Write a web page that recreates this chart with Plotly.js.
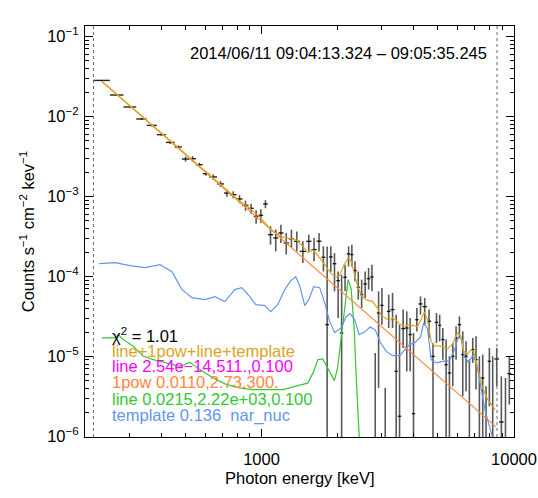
<!DOCTYPE html>
<html><head><meta charset="utf-8">
<script src="https://cdn.plot.ly/plotly-3.0.1.min.js"></script>
<style>html,body{margin:0;padding:0;background:#fff;}#chart{width:538px;height:498px;}</style>
</head><body><div id="chart"></div>
<script>
// ---- data ----
const xRange = [200, 10000];
const yRange = [9.8e-7, 0.135];
const fitRange = [216, 8565];

// energy bin edges (keV), contiguous
const binEdges = [216, 251, 284, 319, 351, 385, 418, 453, 484, 517, 550, 585, 621, 667, 710, 749, 797, 841, 888, 932, 973, 1015, 1059,
  1113, 1165, 1223, 1284, 1344, 1417, 1501, 1578, 1653, 1728, 1790, 1850, 1913, 1979, 2045, 2109, 2178, 2248, 2312, 2381,
  2453, 2533, 2615, 2697, 2779, 2864, 2954, 3044, 3137, 3244, 3365, 3467, 3576, 3702, 3822, 3938, 4062, 4186, 4341, 4522,
  4699, 4856, 5008, 5147, 5304, 5465, 5637, 5809, 5986, 6174, 6362, 6556, 6763, 6969, 7181, 7407, 7633, 7866, 8113, 8360,
  8726, 9099, 9410, 9758];

// measured count flux
const flux = [0.02818, 0.01851, 0.01311, 0.00928, 0.00772, 0.00591, 0.00473, 0.00414, 0.00293, 0.00296, 0.00249, 0.00192,
  0.00175, 0.00143, 0.00110, 0.00105, 0.000928, 0.000772, 0.000708, 0.000562, 0.000579, 0.000804,
  3.32e-4, 3.02e-4, 3.49e-4, 2.61e-4, 2.93e-4, 2.74e-4, 2.05e-4, 2.74e-4, 2.16e-4, 2.75e-4,
  1.73e-4, 2.49e-5, 1.75e-4, 1.44e-4, 8.84e-5, 1.96e-5, 9.72e-5, 1.91e-4, 1.87e-4, 1.18e-4,
  7.29e-5, 5.91e-5, 8.04e-5, 9.36e-5, 9.83e-5, 8e-7, 3.49e-5, 4.34e-5, 8e-7, 3.65e-5,
  3.84e-5, 6.49e-6, 1.78e-6, 2.22e-5, 2.26e-5, 1.87e-5, 1.92e-6, 2.87e-5, 4.52e-5, 4.18e-5,
  2.74e-5, 1.0e-5, 2.66e-5, 2.44e-5, 1.62e-5, 7.87e-6, 6.20e-6, 1.0e-5, 1.70e-5, 2.49e-5,
  1.05e-5, 1.0e-5, 8e-7, 1.21e-5, 9.09e-6, 8e-7, 5.37e-6, 8e-7, 8.66e-6, 8e-7,
  9.28e-6, 1.51e-6, 8e-7, 6.07e-6];

const fluxHi = [0.02858, 0.01878, 0.01337, 0.00955, 0.00794, 0.00608, 0.00494, 0.00432, 0.00314, 0.00318, 0.002635, 0.002031,
  0.001878, 0.001554, 0.00121, 0.001155, 0.001036, 0.000884, 0.000811, 0.000669, 0.000689, 0.000897,
  4.22e-4, 3.84e-4, 4.43e-4, 3.49e-4, 3.84e-4, 3.65e-4, 2.74e-4, 3.32e-4, 3.02e-4, 3.49e-4,
  2.37e-4, 2.37e-4, 2.37e-4, 1.96e-4, 1.15e-4, 1.05e-4, 1.40e-4, 2.37e-4, 2.49e-4, 1.54e-4,
  1.15e-4, 9.09e-5, 1.15e-4, 1.27e-4, 1.40e-4, 1.10e-5, 6.49e-5, 7.16e-5, 4.03e-6, 5.91e-5,
  6.20e-5, 3.32e-5, 2.49e-5, 3.84e-5, 3.65e-5, 3.02e-5, 1.96e-5, 4.03e-5, 5.62e-5, 5.37e-5,
  3.84e-5, 1.47e-5, 3.49e-5, 3.32e-5, 2.26e-5, 1.62e-5, 1.0e-5, 1.47e-5, 2.37e-5, 3.16e-5,
  2.05e-5, 1.54e-5, 9.09e-6, 1.70e-5, 1.78e-5, 1.0e-5, 1.05e-5, 4.22e-6, 1.27e-5, 1.0e-5,
  1.27e-5, 5.62e-6, 5.37e-6, 1.0e-5];

const fluxLo = [0.02778, 0.01824, 0.01285, 0.00901, 0.0075, 0.00574, 0.00452, 0.00396, 0.00272, 0.00274, 0.002345, 0.001809,
  0.001622, 0.001306, 0.00099, 0.000945, 0.00082, 0.00066, 0.000605, 0.000455, 0.000469, 0.000711,
  2.49e-4, 2.05e-4, 2.61e-4, 1.87e-4, 2.26e-4, 2.05e-4, 1.47e-4, 2.05e-4, 1.54e-4, 2.05e-4,
  1.15e-4, 5e-7, 1.14e-4, 6.49e-5, 3.02e-5, 5e-7, 6.49e-5, 1.33e-4, 1.33e-4, 8.66e-5,
  5.11e-5, 4.03e-5, 5.37e-5, 6.82e-5, 6.49e-5, 5e-7, 4.03e-6, 2.49e-5, 5e-7, 2.26e-5,
  2.26e-5, 5e-7, 5e-7, 1.27e-5, 6.49e-6, 6.49e-6, 5e-7, 2.05e-5, 3.32e-5, 2.49e-5,
  1.70e-5, 5e-7, 1.47e-5, 1.54e-5, 9.09e-6, 5e-7, 5e-7, 4.22e-6, 9.09e-6, 1.70e-5,
  3.16e-6, 3.65e-6, 5e-7, 8.27e-6, 3.84e-6, 5e-7, 5e-7, 5e-7, 2.37e-6, 5e-7,
  4.22e-6, 5e-7, 5e-7, 2.49e-6];

// total model: line+1pow+line+template
const totalE = [233.1, 475.5, 821, 899, 985, 1078, 1146, 1217, 1294, 1375, 1460, 1528, 1600, 1674, 1779, 1891, 1984, 2039, 2125, 2208,
  2260, 2332, 2403, 2480, 2584, 2754, 2882, 2976, 3072, 3215, 3304, 3426, 3521, 3685, 3857, 3963, 4148, 4301, 4409, 4543,
  4698, 4842, 5145, 5464, 5718, 5996, 6174, 6322, 6556, 6761, 6923, 7179, 7515, 7864, 8412];
const totalF = [0.02754, 0.00389, 8.71e-4, 7.12e-4, 5.50e-4, 4.00e-4, 3.42e-4, 3.09e-4, 2.96e-4, 2.84e-4, 2.35e-4, 1.98e-4, 2.13e-4, 1.81e-4, 1.40e-4, 1.065e-4, 9.77e-5, 1.02e-4, 1.40e-4, 1.71e-4,
  1.57e-4, 1.11e-4, 7.54e-5, 5.91e-5, 5.11e-5, 4.83e-5, 4.00e-5, 3.27e-5, 3.05e-5, 2.79e-5, 3.05e-5, 2.79e-5, 2.53e-5, 2.38e-5, 2.49e-5, 2.42e-5, 2.35e-5, 2.96e-5, 3.57e-5, 2.88e-5,
  1.53e-5, 1.36e-5, 1.34e-5, 1.25e-5, 1.44e-5, 1.98e-5, 1.76e-5, 1.145e-5, 1.065e-5, 1.21e-5, 1.16e-5, 7.22e-6, 4.00e-6, 2.88e-6, 2.16e-6];

// 1pow component
const powE = [233.1, 2039, 8490];
const powF = [0.02738, 6.82e-5, 1.31e-6];

// line component at 2.22 MeV
const lineE = [233.1, 263.2, 271.2, 283.8, 310.8, 340.4, 372.8, 421.2, 475.5, 520.8, 570.3, 643.9, 727.3, 821, 926.3, 1046.6, 1217.3,
  1417, 1524.2, 1602.3, 1673.9, 1747.6, 1828.4, 1943.6, 2002.1, 2067.2, 2134, 2203.4, 2264.1, 2327.1, 2369.8, 2413.3, 2446];
const lineF = [1.698e-5, 1.698e-5, 1.867e-5, 1.617e-5, 1.334e-5, 1.0e-5, 9.09e-6, 8.27e-6, 7.50e-6, 8.41e-6, 6.82e-6, 5.37e-6, 4.43e-6, 4.03e-6, 3.84e-6, 3.84e-6, 3.84e-6,
  4.37e-6, 4.62e-6, 6.25e-6, 9.09e-6, 9.28e-6, 7.16e-6, 4.97e-6, 7.22e-6, 1.713e-5, 4.43e-5, 9.09e-5, 7.02e-5, 2.28e-5, 5.90e-6, 1.62e-6, 7.87e-7];

// template nar_nuc component
const tmplE = [227.5, 263.2, 301.6, 345.7, 396.3, 442.1, 484.2, 530.4, 597, 653.8, 716, 784.5, 835.9, 899, 949.5, 1030.4, 1088.4, 1159.8, 1236.2, 1305.5,
  1366.4, 1417, 1483, 1538.2, 1609.7, 1700, 1779, 1862, 1949, 2067.2, 2163.3, 2244.1, 2338, 2435.2, 2560, 2691.6, 2817.2, 2961.7, 3113.4, 3303.5,
  3521, 3685, 3857, 4036, 4263.9, 4381.5, 4543, 4698, 4918.6, 5221.9, 5550, 5808.9, 6024, 6190.5, 6362, 6597, 6904, 7096, 7359, 7702,
  8060, 8283, 8435];
const tmplF = [1.441e-4, 1.483e-4, 1.360e-4, 1.284e-4, 1.400e-4, 1.145e-4, 6.82e-5, 5.42e-5, 5.11e-5, 5.57e-5, 4.83e-5, 6.82e-5, 7.22e-5, 5.57e-5, 4.43e-5, 4.30e-5, 3.62e-5, 4.43e-5, 6.82e-5, 8.84e-5,
  9.91e-5, 7.65e-5, 4.30e-5, 5.11e-5, 7.43e-5, 7.22e-5, 4.69e-5, 2.715e-5, 1.98e-5, 2.28e-5, 3.13e-5, 3.42e-5, 2.87e-5, 1.87e-5, 2.01e-5, 2.32e-5, 2.16e-5, 1.48e-5, 1.16e-5, 1.02e-5,
  1.02e-5, 1.18e-5, 1.40e-5, 1.47e-5, 1.74e-5, 2.60e-5, 2.22e-5, 9.09e-6, 8.27e-6, 8.66e-6, 8.84e-6, 1.21e-5, 1.74e-5, 1.62e-5, 9.91e-6, 8.46e-6, 1.05e-5, 8.34e-6, 4.43e-6, 2.03e-6,
  1.21e-6, 9.09e-7, 7.22e-7];

const timeLabel = '2014/06/11 09:04:13.324 – 09:05:35.245';
const legendText = ['χ<sup>2</sup> = 1.01', 'line+1pow+line+template', 'line 2.54e−14,511.,0.100',
  '1pow 0.0110,2.73,300.', 'line 0.0215,2.22e+03,0.100', 'template 0.136 \u00a0nar_nuc'];
const xTitle = 'Photon energy [keV]';
const yTitle = 'Counts s<sup>−1</sup> cm<sup>−2</sup> kev<sup>−1</sup>';
const xMajor = [1000, 10000];
const xMajorText = ['1000', '10000'];
const xMinor = [300, 400, 500, 600, 700, 800, 900, 2000, 3000, 4000, 5000, 6000, 7000, 8000, 9000];
const yMajor = [1e-6, 1e-5, 1e-4, 1e-3, 1e-2, 1e-1];
const yMajorText = ['10<sup>−6</sup>', '10<sup>−5</sup>', '10<sup>−4</sup>', '10<sup>−3</sup>', '10<sup>−2</sup>', '10<sup>−1</sup>'];

// ---- styles ----
const C_TOTAL = 'rgb(218,165,32)', C_MAG = 'rgb(255,0,255)', C_POW = 'rgb(255,135,60)',
      C_LINE = 'rgb(50,200,50)', C_TMPL = 'rgb(100,149,237)';
const legendColors = ['#000', C_TOTAL, C_MAG, C_POW, C_LINE, C_TMPL];
const FS = 16.5;

const yMinor = [];
yMajor.slice(0, 5).forEach(d => { for (let k = 2; k <= 9; k++) yMinor.push(k * d); });

const ec = [], exp = [], exm = [], eyp = [], eym = [];
for (let i = 0; i < flux.length; i++) {
  const c = Math.sqrt(binEdges[i] * binEdges[i + 1]);
  ec.push(c); exp.push(binEdges[i + 1] - c); exm.push(c - binEdges[i]);
  eyp.push(fluxHi[i] - flux[i]); eym.push(flux[i] - fluxLo[i]);
}

const traces = [
  { x: ec, y: flux, type: 'scatter', mode: 'markers', marker: { size: 1, color: 'rgba(0,0,0,0)' }, cliponaxis: true,
    error_x: { type: 'data', symmetric: false, array: exp, arrayminus: exm, width: 0, thickness: 1.4, color: 'rgba(0,0,0,0.85)' },
    error_y: { type: 'data', symmetric: false, array: eyp, arrayminus: eym, width: 0, thickness: 1.6, color: 'rgba(0,0,0,0.65)' },
    hoverinfo: 'skip' },
  { x: lineE, y: lineF, type: 'scatter', mode: 'lines', line: { color: C_LINE, width: 1.2 } },
  { x: tmplE, y: tmplF, type: 'scatter', mode: 'lines', line: { color: C_TMPL, width: 1.2 } },
  { x: powE, y: powF, type: 'scatter', mode: 'lines', line: { color: C_POW, width: 1.2 } },
  { x: totalE, y: totalF, type: 'scatter', mode: 'lines', line: { color: C_TOTAL, width: 1.2 } }
];

const FONT = 'Liberation Sans, Arial, Helvetica, sans-serif';
const annotations = [{
  text: timeLabel, xref: 'paper', yref: 'paper', x: 0.942, y: 0.934, xanchor: 'right', yanchor: 'middle',
  showarrow: false, font: { family: FONT, size: FS, color: '#000' }
}, {
  text: xTitle, xref: 'paper', yref: 'paper', x: 0.5, y: -0.1, xanchor: 'center', yanchor: 'middle',
  showarrow: false, font: { family: FONT, size: FS, color: '#000' }
}];
const legendY = [0.248, 0.21, 0.1727, 0.1345, 0.0932, 0.0518];
legendText.forEach((t, i) => annotations.push({
  text: t, xref: 'paper', yref: 'paper', x: 0.058, y: legendY[i], xanchor: 'left', yanchor: 'middle',
  showarrow: false, font: { family: FONT, size: FS, color: legendColors[i] }
}));

const shapes = fitRange.map(e => ({
  type: 'line', xref: 'x', yref: 'paper', x0: e, x1: e, y0: 0, y1: 1,
  line: { color: '#666', width: 1, dash: 'dot' }
}));

const axisCommon = {
  type: 'log', showgrid: false, zeroline: false, showline: true, linecolor: '#000', linewidth: 1,
  mirror: 'ticks', ticks: 'inside', tickcolor: '#000', tickwidth: 1, ticklen: 8,
  tickfont: { family: FONT, size: FS, color: '#000' }
};

const layout = {
  width: 538, height: 498,
  margin: { l: 85, r: 24, t: 26, b: 61, pad: 0 },
  paper_bgcolor: '#fff', plot_bgcolor: '#fff', showlegend: false,
  font: { family: FONT, size: FS, color: '#000' },
  xaxis: Object.assign({}, axisCommon, {
    range: [Math.log10(xRange[0]), Math.log10(xRange[1])],
    tickmode: 'array', tickvals: xMajor, ticktext: xMajorText, ticklabelstandoff: 7,
    minor: { tickmode: 'array', tickvals: xMinor, ticklen: 4, ticks: 'inside', tickcolor: '#000', tickwidth: 1, showgrid: false }
  }),
  yaxis: Object.assign({}, axisCommon, {
    range: [Math.log10(yRange[0]), Math.log10(yRange[1])],
    tickmode: 'array', tickvals: yMajor, ticktext: yMajorText, ticklabelstandoff: 2,
    minor: { tickmode: 'array', tickvals: yMinor, ticklen: 4, ticks: 'inside', tickcolor: '#000', tickwidth: 1, showgrid: false },
    title: { text: yTitle, font: { family: FONT, size: FS }, standoff: 8 }
  }),
  annotations: annotations,
  shapes: shapes
};

Plotly.newPlot('chart', traces, layout, { staticPlot: true, displayModeBar: false });
</script>
</body></html>
